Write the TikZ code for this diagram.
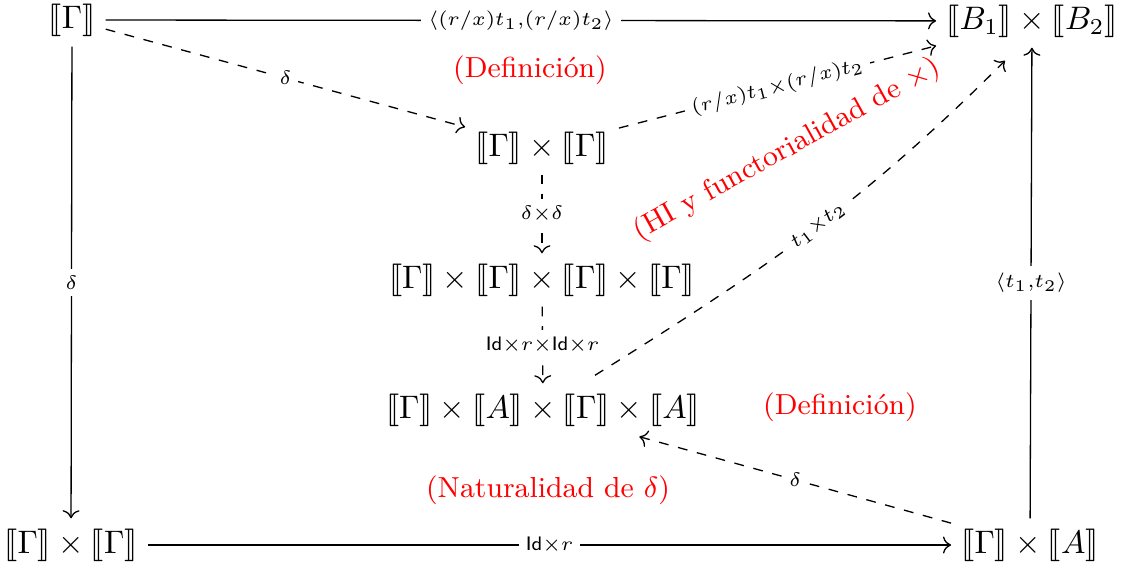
\documentclass[tikz,border=0pt]{standalone}
\usepackage{stmaryrd}
\usetikzlibrary{calc,cd}
\begin{document}
\begin{tikzpicture}[x=0.307pt,y=-0.307pt,
  >={cm to},
  obj/.style={inner sep=3pt},
  arr/.style={->},
  darr/.style={->,dashed},
  lab/.style={font=\fontsize{6pt}{7pt}\selectfont,fill=white,inner sep=2.2pt},
  note/.style={text=red,font=\fontsize{8.9pt}{11pt}\selectfont}]
\useasboundingbox (0,0) rectangle (1125,567);
\node[obj] (G) at (72,20) {$\llbracket\Gamma\rrbracket$};
\node[obj] (B) at (1032,21) {$\llbracket B_1\rrbracket\times\llbracket B_2\rrbracket$};
\node[obj] (GG) at (542,148) {$\llbracket\Gamma\rrbracket\times\llbracket\Gamma\rrbracket$};
\node[obj] (G4) at (542,280) {$\llbracket\Gamma\rrbracket\times\llbracket\Gamma\rrbracket\times\llbracket\Gamma\rrbracket\times\llbracket\Gamma\rrbracket$};
\node[obj] (GAGA) at (543,410) {$\llbracket\Gamma\rrbracket\times\llbracket A\rrbracket\times\llbracket\Gamma\rrbracket\times\llbracket A\rrbracket$};
\node[obj] (GGb) at (71,545) {$\llbracket\Gamma\rrbracket\times\llbracket\Gamma\rrbracket$};
\node[obj] (GA) at (1030,545) {$\llbracket\Gamma\rrbracket\times\llbracket A\rrbracket$};

\draw[arr] (G) -- node[lab] {$\langle(r/x)t_1{,}(r/x)t_2\rangle$} (B);
\draw[darr] (G) -- node[lab] {$\delta$} (GG);
\draw[arr] (G) -- node[lab] {$\delta$} (GGb);
\draw[darr] (GG) -- node[lab,sloped] {$(r/x)t_1{\times}(r/x)t_2$} (B);
\draw[darr] (GG) -- node[lab] {$\delta{\times}\delta$} (G4);
\draw[darr] (G4) -- node[lab] {$\mathsf{Id}{\times}r{\times}\mathsf{Id}{\times}r$} (GAGA);
\draw[darr] ($(GAGA.north)+(52,-8)$) to[out=32,in=225] node[lab,sloped,pos=0.52] {$t_1{\times}t_2$} ($(B.south)+(-27,13)$);
\draw[darr] (GA) -- node[lab] {$\delta$} (GAGA);
\draw[arr] (GGb) -- node[lab] {$\mathsf{Id}{\times}r$} (GA);
\draw[arr] (GA) -- node[lab] {$\langle t_1{,}t_2\rangle$} (B);

\node[note] (n1) at (530,70) {(Definición)};
\node[note,rotate=29] (n2) at (787,150) {(HI y functorialidad de $\times$)};
\node[note] (n3) at (840,407) {(Definición)};
\node[note] (n4) at (548,490) {(Naturalidad de $\delta$)};
\end{tikzpicture}
\end{document}
